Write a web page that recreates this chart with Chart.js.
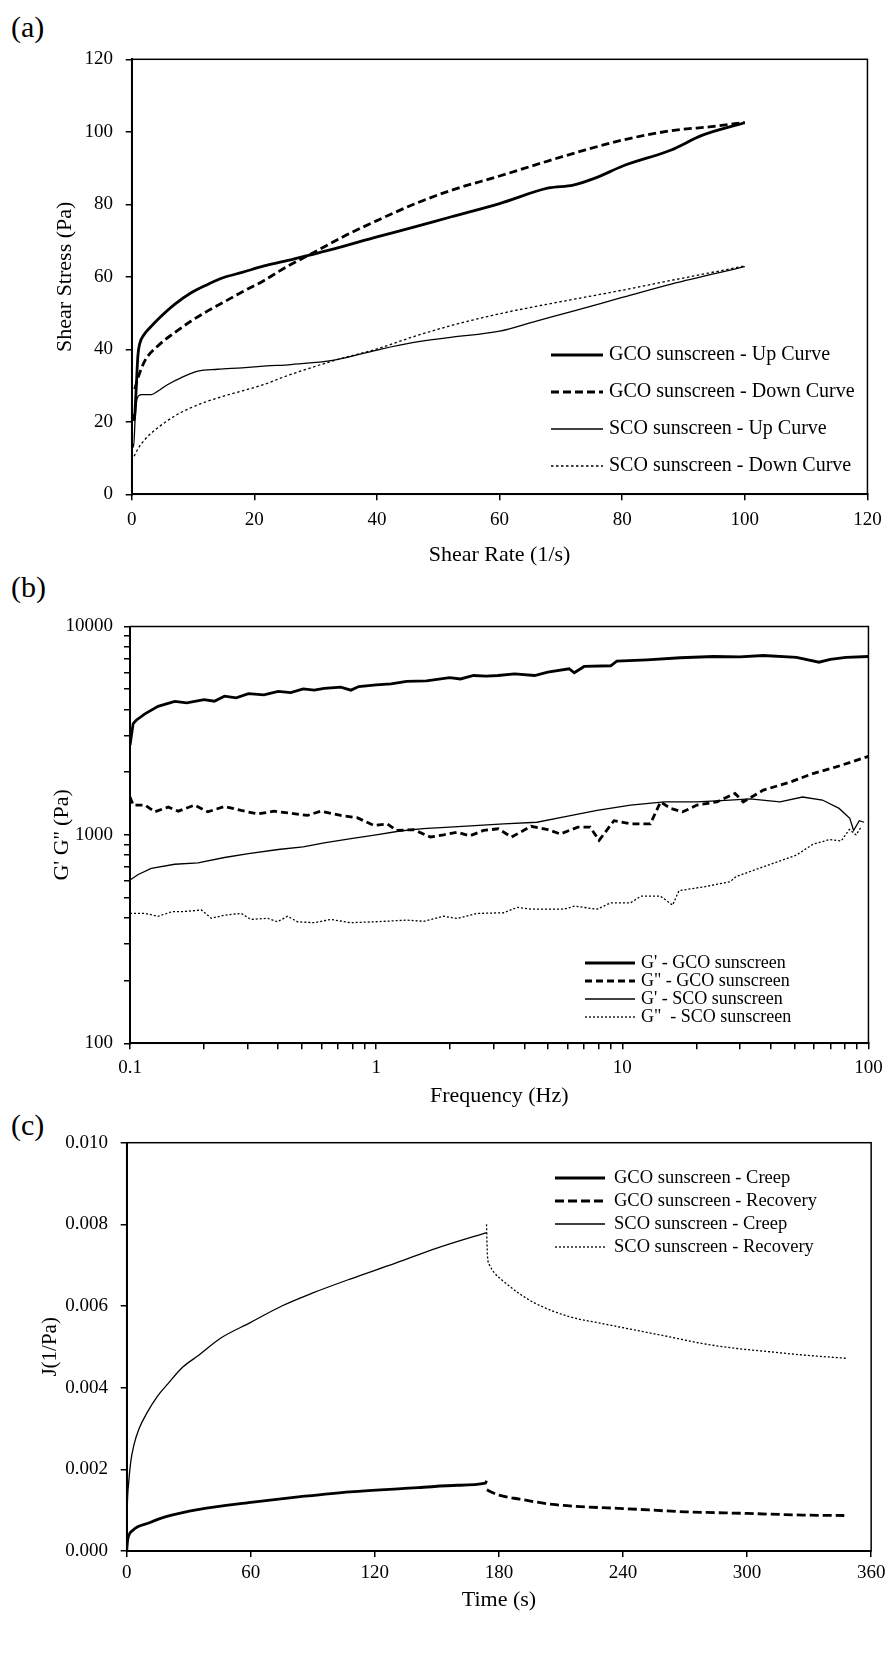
<!DOCTYPE html>
<html>
<head>
<meta charset="utf-8">
<script src="https://cdn.jsdelivr.net/npm/chart.js@4.4.1/dist/chart.umd.min.js"></script>
<style>
  html, body { margin: 0; padding: 0; background: #fff; }
  body { width: 890px; height: 1669px; position: relative; overflow: hidden; }
  canvas { position: absolute; left: 0; }
  .tag { position: absolute; left: 11px; font: 30px/30px "Liberation Serif", serif; color: #000; }
</style>
</head>
<body>
<div class="tag" style="top:12px">(a)</div>
<div class="tag" style="top:572px">(b)</div>
<div class="tag" style="top:1110px">(c)</div>
<canvas id="chartA" width="890" height="575" style="top:0px"></canvas>
<canvas id="chartB" width="890" height="545" style="top:570px"></canvas>
<canvas id="chartC" width="890" height="564" style="top:1105px"></canvas>
<script>
// (a) flow curves: shear rate (1/s) vs shear stress (Pa)
const rateGcoUp = [0.1, 0.4, 0.7, 1.0, 1.3, 2, 3, 4.3, 7, 9.7, 12.4, 15, 18, 21.6, 25, 29, 33, 40, 46, 52, 60, 68, 72, 76, 80, 88, 93, 100];
const stressGcoUp = [22, 20.5, 28, 38, 41.5, 44, 46, 48.3, 52.4, 55.6, 57.9, 59.8, 61.2, 63, 64.3, 66, 67.7, 71, 73.7, 76.5, 80.2, 84.5, 85.3, 87.5, 90.5, 95, 99, 102.5];
const rateGcoDown = [0.5, 1, 2.2, 4.3, 7, 9.7, 12.4, 15, 18, 21.6, 25, 30, 35, 40, 46, 52, 60, 68, 74, 80, 88, 95, 100];
const stressGcoDown = [29, 32, 37, 41, 44.6, 47.8, 50.6, 53, 55.8, 59, 62.5, 67, 71.5, 75.5, 80, 83.8, 87.8, 92, 95, 97.7, 100.3, 101.5, 102.6];
const rateScoUp = [0.1, 0.3, 0.6, 0.9, 1.6, 3.2, 4.3, 5.9, 8.1, 10.8, 14, 18, 22, 26, 33, 40, 46, 52, 60, 66, 72, 80, 88, 100];
const stressScoUp = [14, 13, 22, 26.5, 27.5, 27.5, 28.5, 30.3, 32.2, 34, 34.5, 34.9, 35.4, 35.8, 37, 39.8, 41.9, 43.3, 45, 47.8, 50.5, 54.3, 58, 62.8];
const rateScoDown = [0.4, 1, 2.2, 4.3, 7, 9.7, 12.4, 15, 18, 21.6, 25, 33, 40, 46, 52, 60, 68, 80, 88, 100];
const stressScoDown = [10.5, 12.5, 15.2, 18.4, 21.6, 23.9, 25.7, 27.1, 28.5, 30.3, 32.5, 36.9, 40.1, 43.5, 46.5, 49.8, 52.5, 56.3, 59, 63];

// (b) frequency sweep: frequency (Hz) vs G', G'' (Pa)
const freqGpGco = [0.1, 0.103, 0.106, 0.115, 0.13, 0.152, 0.17, 0.2, 0.22, 0.242, 0.27, 0.303, 0.35, 0.4, 0.45, 0.505, 0.56, 0.615, 0.718, 0.79, 0.85, 1.0, 1.15, 1.33, 1.6, 1.99, 2.2, 2.49, 2.8, 3.13, 3.65, 4.4, 4.98, 6.08, 6.38, 7.0, 8.97, 9.5, 12.6, 17.2, 23.5, 30, 37.4, 51, 63, 70, 81, 100];
const gpGco = [2690, 3420, 3550, 3810, 4140, 4370, 4300, 4460, 4380, 4630, 4550, 4760, 4700, 4880, 4820, 5020, 4950, 5050, 5120, 4950, 5150, 5250, 5300, 5450, 5480, 5680, 5600, 5820, 5780, 5820, 5930, 5820, 6040, 6270, 6000, 6430, 6480, 6820, 6920, 7080, 7180, 7150, 7260, 7110, 6740, 6950, 7110, 7180];
const freqGppGco = [0.1, 0.103, 0.115, 0.126, 0.143, 0.157, 0.183, 0.207, 0.242, 0.283, 0.33, 0.385, 0.45, 0.526, 0.595, 0.718, 0.837, 0.978, 1.11, 1.21, 1.42, 1.66, 1.88, 2.13, 2.4, 2.73, 3.13, 3.55, 4.26, 4.98, 5.6, 6.6, 7.4, 8.05, 9.25, 10.8, 13.0, 14.3, 15.7, 17.6, 20.1, 24.2, 28.7, 31, 37.4, 47.9, 59.5, 74, 100];
const gppGco = [1520, 1390, 1390, 1290, 1360, 1300, 1390, 1290, 1370, 1310, 1260, 1300, 1270, 1240, 1300, 1240, 1210, 1110, 1130, 1050, 1060, 977, 1000, 1030, 990, 1050, 1070, 977, 1100, 1060, 1010, 1090, 1090, 942, 1170, 1130, 1130, 1440, 1340, 1290, 1390, 1440, 1580, 1440, 1640, 1790, 1970, 2120, 2380];
const freqGpSco = [0.1, 0.108, 0.122, 0.152, 0.189, 0.242, 0.303, 0.40, 0.505, 0.615, 0.79, 1.0, 1.25, 1.55, 1.99, 3.3, 4.5, 5.8, 7.9, 10.8, 14.8, 20.1, 27.4, 33, 43.7, 54, 65, 76, 84, 87, 91.8, 96];
const gpSco = [607, 646, 690, 723, 734, 779, 813, 851, 876, 916, 960, 1000, 1044, 1071, 1090, 1130, 1150, 1220, 1310, 1390, 1440, 1440, 1470, 1490, 1440, 1520, 1470, 1340, 1200, 1050, 1170, 1150];
const freqGppSco = [0.1, 0.115, 0.13, 0.148, 0.162, 0.195, 0.214, 0.242, 0.283, 0.31, 0.362, 0.397, 0.437, 0.479, 0.56, 0.654, 0.787, 1.0, 1.33, 1.56, 1.88, 2.13, 2.56, 3.3, 3.75, 4.26, 5.8, 6.4, 7.9, 8.97, 10.8, 11.9, 14.3, 16, 17, 21.4, 27.4, 29, 37.4, 51, 59.5, 69.6, 77.5, 83.6, 89, 93.5];
const gppSco = [420, 420, 407, 428, 428, 436, 398, 412, 420, 393, 398, 383, 407, 383, 379, 393, 379, 383, 390, 385, 407, 397, 420, 423, 449, 440, 440, 455, 440, 472, 472, 508, 508, 460, 540, 563, 596, 631, 703, 800, 902, 950, 935, 1062, 1000, 1092];
const freqTickLabels = ['0.1', '1', '10', '100'];
const modulusTickLabels = ['100', '1000', '10000'];

// (c) creep and recovery: time (s) vs compliance J (1/Pa)
const timeGcoCreep = [0, 0.3, 0.8, 3, 11, 19, 35, 60, 84, 108, 141, 160, 173.5, 174];
const jGcoCreep = [0, 0.0002, 0.00035, 0.00051, 0.00069, 0.00084, 0.00102, 0.00119, 0.00133, 0.00145, 0.00155, 0.00161, 0.00166, 0.00172];
const timeGcoRecovery = [174.2, 176, 180, 190, 206, 222, 240, 270, 300, 327, 347];
const jGcoRecovery = [0.0015, 0.00145, 0.00137, 0.00127, 0.00114, 0.00108, 0.00104, 0.00096, 0.00092, 0.00088, 0.00087];
const timeScoCreep = [0, 0.3, 1, 2, 3.5, 6, 10, 15, 20, 27, 35, 45, 60, 75, 90, 108, 130, 150, 174];
const jScoCreep = [0.0002, 0.0011, 0.0017, 0.0022, 0.0026, 0.003, 0.0034, 0.0038, 0.0041, 0.0045, 0.0048, 0.0052, 0.0056, 0.006, 0.00632, 0.00666, 0.00705, 0.00742, 0.0078];
const timeScoRecovery = [174, 174.2, 174.5, 175.5, 178, 181.6, 190, 197.8, 214, 230, 246, 262, 278.5, 295, 311, 327, 348];
const jScoRecovery = [0.008, 0.0076, 0.0072, 0.007, 0.0068, 0.00663, 0.0063, 0.00606, 0.00574, 0.00557, 0.00541, 0.00525, 0.00508, 0.00496, 0.00488, 0.0048, 0.00472];

const black = '#000';
const serif = '"Liberation Serif", "Times New Roman", serif';
Chart.defaults.font.family = serif;
Chart.defaults.color = black;

const pts = (xs, ys) => xs.map((x, i) => ({ x, y: ys[i] }));

// legend drawn inside the plot, lines + labels taken from the datasets
const insideLegend = {
  id: 'insideLegend',
  afterDraw(chart, args, opts) {
    const ctx = chart.ctx;
    ctx.save();
    ctx.font = opts.font;
    ctx.fillStyle = black;
    ctx.textBaseline = 'middle';
    chart.data.datasets.forEach((ds, i) => {
      const y = opts.top + i * opts.rowGap;
      ctx.strokeStyle = ds.borderColor;
      ctx.lineWidth = ds.borderWidth;
      ctx.setLineDash(ds.borderDash || []);
      ctx.beginPath();
      ctx.moveTo(opts.left, y);
      ctx.lineTo(opts.left + opts.lineLen, y);
      ctx.stroke();
      ctx.setLineDash([]);
      ctx.fillText(ds.label, opts.left + opts.lineLen + opts.gap, y);
    });
    ctx.restore();
  }
};

// box round the plot area
const frame = {
  id: 'frame',
  afterDraw(chart) {
    const { ctx, chartArea: a } = chart;
    ctx.save();
    ctx.strokeStyle = black;
    ctx.lineWidth = 1.5;
    ctx.strokeRect(a.left, a.top, a.right - a.left, a.bottom - a.top);
    ctx.restore();
  }
};

const thick = 2.8, thin = 1.3;

function logTicks(lo, hi) {
  const out = [];
  for (let e = Math.round(Math.log10(lo)); e < Math.round(Math.log10(hi)); e++) {
    for (let m = 1; m <= 9; m++) out.push({ value: m * Math.pow(10, e) });
  }
  out.push({ value: hi });
  return out;
}

function axis(opts) {
  return Object.assign({
    border: { display: true, color: black, width: 2 },
    grid: { drawOnChartArea: false, drawTicks: true, tickLength: 6, color: black, lineWidth: 1.5 },
  }, opts);
}

function baseOptions(padding, legend) {
  return {
    responsive: false,
    animation: false,
    events: [],
    layout: { padding },
    elements: { point: { radius: 0 } },
    plugins: { legend: { display: false }, tooltip: { enabled: false }, insideLegend: legend }
  };
}

// (a)
const optsA = baseOptions({ top: 59.3, right: 17, left: 0, bottom: 0 },
  { left: 551, top: 355, rowGap: 37, lineLen: 52, gap: 6, font: '20px ' + serif });
optsA.elements.line = { cubicInterpolationMode: 'monotone' };
optsA.scales = {
  x: axis({
    type: 'linear', min: 0, max: 120,
    ticks: { stepSize: 20, padding: 8.3, font: { size: 19 } },
    title: { display: true, text: 'Shear Rate (1/s)', font: { size: 22 }, padding: { top: 0, bottom: 6.8 } },
    afterFit: s => { s.height = 80.7; }
  }),
  y: axis({
    min: 0, max: 120,
    ticks: { stepSize: 20, padding: 12.7, font: { size: 19 } },
    title: { display: true, text: 'Shear Stress (Pa)', font: { size: 22 }, padding: { top: 51.8, bottom: 0 } },
    afterFit: s => { s.width = 131.7; }
  })
};
new Chart(document.getElementById('chartA'), {
  type: 'line',
  data: {
    datasets: [
      { label: 'GCO sunscreen - Up Curve', data: pts(rateGcoUp, stressGcoUp), borderColor: black, borderWidth: thick },
      { label: 'GCO sunscreen - Down Curve', data: pts(rateGcoDown, stressGcoDown), borderColor: black, borderWidth: thick, borderDash: [8, 4] },
      { label: 'SCO sunscreen - Up Curve', data: pts(rateScoUp, stressScoUp), borderColor: black, borderWidth: thin },
      { label: 'SCO sunscreen - Down Curve', data: pts(rateScoDown, stressScoDown), borderColor: black, borderWidth: thin, borderDash: [2.5, 2.5] }
    ]
  },
  options: optsA,
  plugins: [insideLegend, frame]
});

// (b)
const optsB = baseOptions({ top: 56.5, right: 17, left: 0, bottom: 0 },
  { left: 585, top: 393, rowGap: 18, lineLen: 50, gap: 6, font: '18px ' + serif });
optsB.elements.line = { tension: 0 };
optsB.scales = {
  x: axis({
    type: 'logarithmic', min: 0.1, max: 100,
    afterBuildTicks: s => { s.ticks = logTicks(0.1, 100); },
    ticks: { autoSkip: false, maxRotation: 0, padding: 7.3, font: { size: 19 },
      callback: v => { const t = String(+v.toPrecision(6)); return freqTickLabels.includes(t) ? t : ''; } },
    title: { display: true, text: 'Frequency (Hz)', font: { size: 22 }, padding: { top: 0, bottom: 5.8 } },
    afterFit: s => { s.height = 71.7; }
  }),
  y: axis({
    type: 'logarithmic', min: 100, max: 10000,
    afterBuildTicks: s => { s.ticks = logTicks(100, 10000); },
    ticks: { autoSkip: false, padding: 11, font: { size: 19 },
      callback: v => { const t = String(+v.toPrecision(6)); return modulusTickLabels.includes(t) ? t : ''; } },
    title: { display: true, text: "G' G'' (Pa)", font: { size: 22 }, padding: { top: 48.8, bottom: 0 } },
    afterFit: s => { s.width = 130; }
  })
};
new Chart(document.getElementById('chartB'), {
  type: 'line',
  data: {
    datasets: [
      { label: "G' - GCO sunscreen", data: pts(freqGpGco, gpGco), borderColor: black, borderWidth: thick },
      { label: 'G" - GCO sunscreen', data: pts(freqGppGco, gppGco), borderColor: black, borderWidth: thick, borderDash: [7, 4] },
      { label: "G' - SCO sunscreen", data: pts(freqGpSco, gpSco), borderColor: black, borderWidth: thin },
      { label: 'G"  - SCO sunscreen', data: pts(freqGppSco, gppSco), borderColor: black, borderWidth: thin, borderDash: [2, 2] }
    ]
  },
  options: optsB,
  plugins: [insideLegend, frame]
});

// (c)
const optsC = baseOptions({ top: 37.7, right: 18.3, left: 0, bottom: 0 },
  { left: 555, top: 73, rowGap: 23, lineLen: 50, gap: 9, font: '18.5px ' + serif });
optsC.elements.line = { cubicInterpolationMode: 'monotone' };
optsC.scales = {
  x: axis({
    type: 'linear', min: 0, max: 360,
    ticks: { stepSize: 60, padding: 4.6, font: { size: 19 } },
    title: { display: true, text: 'Time (s)', font: { size: 22 }, padding: { top: 0, bottom: 55.8 } },
    afterFit: s => { s.height = 118; }
  }),
  y: axis({
    min: 0, max: 0.01,
    ticks: { stepSize: 0.002, padding: 12.7, font: { size: 19 }, callback: v => v.toFixed(3) },
    title: { display: true, text: 'J(1/Pa)', font: { size: 21 }, padding: { top: 37.4, bottom: 0 } },
    afterFit: s => { s.width = 126.7; }
  })
};
new Chart(document.getElementById('chartC'), {
  type: 'line',
  data: {
    datasets: [
      { label: 'GCO sunscreen - Creep', data: pts(timeGcoCreep, jGcoCreep), borderColor: black, borderWidth: thick },
      { label: 'GCO sunscreen - Recovery', data: pts(timeGcoRecovery, jGcoRecovery), borderColor: black, borderWidth: thick, borderDash: [9, 4] },
      { label: 'SCO sunscreen - Creep', data: pts(timeScoCreep, jScoCreep), borderColor: black, borderWidth: thin },
      { label: 'SCO sunscreen - Recovery', data: pts(timeScoRecovery, jScoRecovery), borderColor: black, borderWidth: thin, borderDash: [2, 2] }
    ]
  },
  options: optsC,
  plugins: [insideLegend, frame]
});
</script>
</body>
</html>
